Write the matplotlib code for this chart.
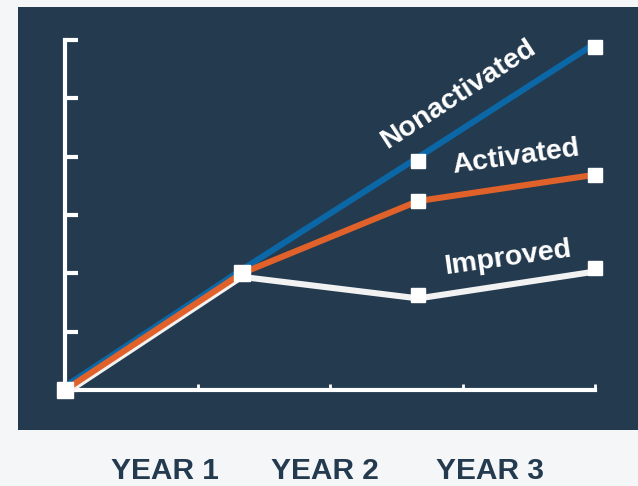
import matplotlib
matplotlib.use("Agg")
import matplotlib.pyplot as plt
import matplotlib.patches as mpatches
import matplotlib.transforms as mtransforms

# ── data ─────────────────────────────────────────────
years = [0, 1, 2, 3]
nonactivated = [0, 2.0, 3.93, 5.88]
activated = [0, 2.0, 3.24, 3.69]
improved = [0, 2.0, 1.63, 2.09]
year_labels = ["YEAR 1", "YEAR 2", "YEAR 3"]

NAVY = "#243a4f"
BLUE = "#0b67a6"
ORANGE = "#e0622a"
WHITE = "#f2f2f2"
BG = "#f4f6f8"

plt.rcParams["font.family"] = ["Liberation Sans", "DejaVu Sans"]

fig = plt.figure(figsize=(6.38, 4.86), dpi=100, facecolor=BG)

# dark panel behind the plot
fig.patches.append(mpatches.Rectangle(
    (18 / 638, 1 - 430 / 486), 620 / 638, 423 / 486,
    transform=fig.transFigure, facecolor=NAVY, edgecolor="none", zorder=-5))

ax = fig.add_axes([65 / 638, 96 / 486, 530 / 638, 350 / 486])
ax.set_facecolor("none")
ax.set_xlim(0, 3)
ax.set_ylim(0, 6)

for s in ["top", "right"]:
    ax.spines[s].set_visible(False)
for s in ["left", "bottom"]:
    ax.spines[s].set_color("white")
    ax.spines[s].set_linewidth(3)
    ax.spines[s].set_capstyle("projecting")

ax.set_yticks(range(7))
ax.set_yticklabels([])
ax.tick_params(axis="y", direction="in", length=9, width=3, color="white")
ax.set_xticks([0.75, 1.5, 2.25, 3])
ax.set_xticklabels([])
ax.tick_params(axis="x", direction="in", length=4, width=2, color="white")

# small pixel offsets so the shared first segment shows all three colours
def shift(dy):
    return ax.transData + mtransforms.ScaledTranslation(0, dy / 100, fig.dpi_scale_trans)

ax.plot(years, improved, color=WHITE, lw=4.4, transform=shift(-3.5), zorder=3,
        solid_capstyle="butt", clip_on=False)
ax.plot(years, nonactivated, color=BLUE, lw=4.4, transform=shift(3.5), zorder=3,
        solid_capstyle="butt", clip_on=False)
ax.plot(years, activated, color=ORANGE, lw=4.4, zorder=4,
        solid_capstyle="butt", clip_on=False)

# square markers
for series in (nonactivated, activated, improved):
    ax.plot(years[2:], series[2:], ls="none", marker="s", ms=9.5,
            mfc="white", mec="white", zorder=6, clip_on=False)
ax.plot(years[:2], nonactivated[:2], ls="none", marker="s", ms=11.5,
        mfc="white", mec="white", zorder=6, clip_on=False)

label_kw = dict(color="white", fontsize=20.5, fontweight="bold",
                ha="center", va="center", rotation_mode="anchor")
ax.text(2.225, 5.06, "Nonactivated", rotation=33, **label_kw)
ax.text(2.553, 3.99, "Activated", rotation=8, **label_kw)
ax.text(2.507, 2.26, "Improved", rotation=8, **label_kw)

for xpix, lab in zip([165, 325, 490], year_labels):
    fig.text(xpix / 638, 1 - 471 / 486, lab, color=NAVY, fontsize=21.5,
             fontweight="bold", ha="center", va="center")

fig.savefig("out.png", dpi=100, facecolor=BG)
